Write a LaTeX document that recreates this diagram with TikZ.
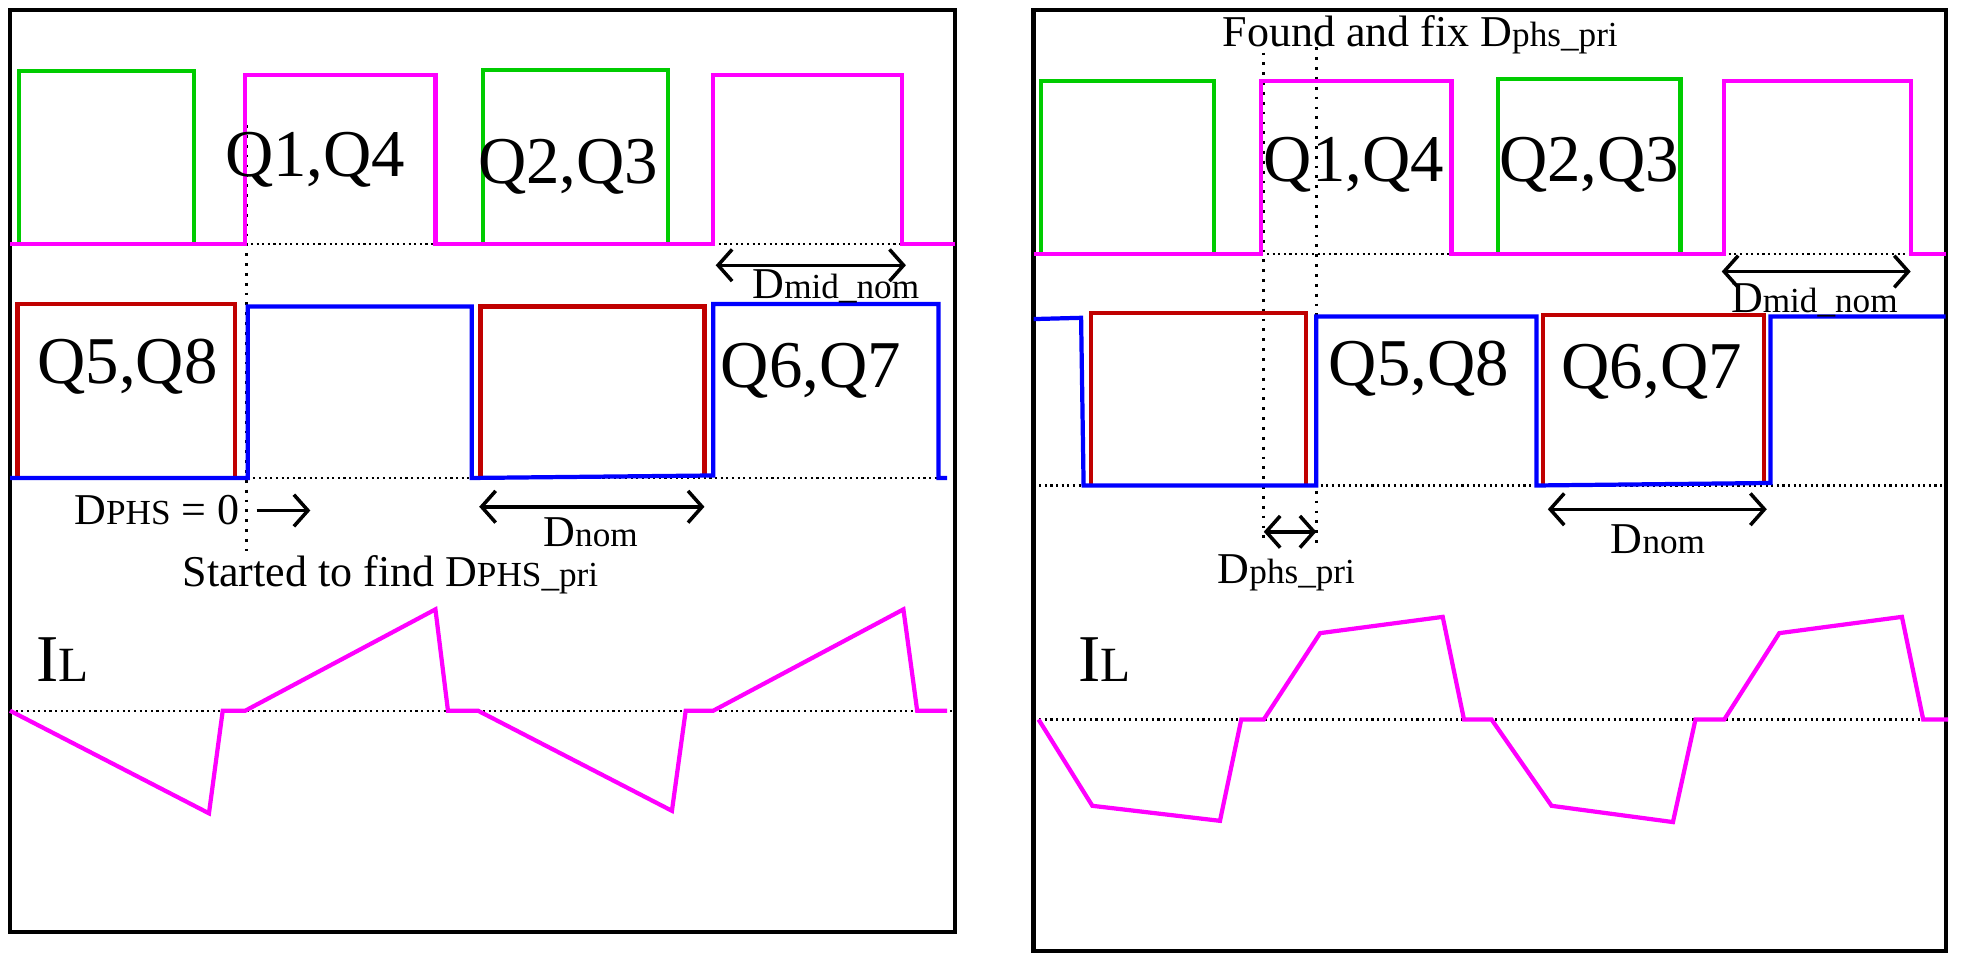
\documentclass[tikz,border=0pt]{standalone}
\usepackage{fontspec}
\setmainfont{Liberation Serif}
\usetikzlibrary{arrows.meta}
\definecolor{wavegreen}{RGB}{0,204,0}
\definecolor{wavemagenta}{RGB}{255,0,255}
\definecolor{wavered}{RGB}{192,0,0}
\newcommand{\sub}[1]{{\fontsize{10}{12}\selectfont #1}}
\newcommand{\subbig}[1]{{\fontsize{14}{16}\selectfont #1}}
\tikzset{
	wavepicture/.style = {
		x = 0.0125cm,
		y = -0.0125cm,
		wave/.style = {
			line width = 1.2pt,
			line join = miter
		}
	},
	frame/.style = {
		draw,
		line width = 1.2pt
	},
	zero/.style = {
		densely dotted,
		line width = 0.6pt
	},
	phasemark/.style = {
		dotted,
		line width = 0.8pt
	},
	span/.style = {
		draw,
		{Straight Barb[length=4pt,width=9pt]}-{Straight Barb[length=4pt,width=9pt]},
		line width = 1pt
	},
	qlabel/.style = {
		font = \fontsize{19}{22}\selectfont,
		inner sep = 0pt
	},
	dlabel/.style = {
		font = \fontsize{12.5}{15}\selectfont,
		inner sep = 0pt
	},
	wave-green/.style = {
		draw = wavegreen
	},
	wave-magenta/.style = {
		draw = wavemagenta
	},
	wave-red/.style = {
		draw = wavered
	},
	wave-blue/.style = {
		draw = blue
	}
}

\begin{document}
\begin{tikzpicture}[wavepicture]
	\useasboundingbox (0,0) rectangle (1568,771);

	% left panel
	\draw[frame] (8,8) rectangle (763,745);
	\draw[phasemark] (197,100) -- (197,440);
	\draw[zero] (196,195) -- (570,195) (570,195) -- (721,195);
	\draw[zero] (198,382) -- (757,382);
	\draw[zero] (8,568) -- (763,568);

	\draw[wave, wave-green] (15,195) -- (15,57) -- (155,57) -- (155,195);
	\draw[wave, wave-green] (386,195) -- (386,56) -- (534,56) -- (534,195);
	\draw[wave, wave-magenta] (8,195) -- (196,195) -- (196,60) -- (348,60) -- (348,195)
		-- (570,195) -- (570,60) -- (721,60) -- (721,195) -- (763,195);

	\draw[wave, wave-red] (14,382) -- (14,243) -- (188,243) -- (188,382);
	\draw[wave, wave-red] (384,382) -- (384,245) -- (563,245) -- (563,380);
	\draw[wave, wave-blue] (8,382) -- (198,382) -- (198,245) -- (377,245) -- (377,382)
		-- (570,380) -- (570,243) -- (750,243) -- (750,382) -- (757,382);

	\draw[wave, wave-magenta] (8,568) -- (167,650) -- (178,568) -- (196,568) -- (348,487)
		-- (358,568) -- (382,568) -- (537,648) -- (548,568) -- (570,568) -- (722,487)
		-- (733,568) -- (757,568);

	\node[qlabel] (Q14a) at (252,128) {Q1,Q4};
	\node[qlabel] (Q23a) at (454,133) {Q2,Q3};
	\node[qlabel] (Q58a) at (102,293) {Q5,Q8};
	\node[qlabel] (Q67a) at (648,296) {Q6,Q7};
	\node[qlabel] (ILa) at (50,527) {I\subbig{L}};

	\coordinate (midA1) at (572,212);
	\coordinate (midA2) at (724,212);
	\path[span] (midA1) -- (midA2);
	\node[dlabel] (midAlab) at (668,229) {D\sub{mid\_nom}};

	\node[dlabel, anchor = east] (phsA) at (192,408) {D\sub{PHS} = 0};
	\coordinate (phsA1) at (205,408);
	\coordinate (phsA2) at (248,408);
	\path[draw, -{Straight Barb[length=4pt,width=9pt]}, line width = 1pt] (phsA1) -- (phsA2);
	\coordinate (nomA1) at (383,405);
	\coordinate (nomA2) at (563,405);
	\path[span] (nomA1) -- (nomA2);
	\node[dlabel] (nomAlab) at (472,425) {D\sub{nom}};
	\node[dlabel] (startA) at (312,459) {Started to find D\sub{PHS\_pri}};

	% right panel
	\draw[frame] (826,8) rectangle (1555,760);
	\draw[phasemark] (1010,42) -- (1010,435);
	\draw[phasemark] (1052,30) -- (1052,435);
	\draw[zero] (1008,203) -- (1527,203);
	\draw[zero] (826,388) -- (1555,388);
	\draw[zero] (826,575) -- (1555,575);

	\draw[wave, wave-green] (832,203) -- (832,65) -- (970,65) -- (970,203);
	\draw[wave, wave-green] (1197,203) -- (1197,63) -- (1343,63) -- (1343,203);
	\draw[wave, wave-magenta] (826,203) -- (1008,203) -- (1008,65) -- (1160,65) -- (1160,203)
		-- (1378,203) -- (1378,65) -- (1527,65) -- (1527,203) -- (1555,203);

	\draw[wave, wave-red] (872,388) -- (872,250) -- (1044,250) -- (1044,388);
	\draw[wave, wave-red] (1233,388) -- (1233,252) -- (1410,252) -- (1410,386);
	\draw[wave, wave-blue] (826,255) -- (864,254) -- (866,388) -- (1052,388) -- (1052,253)
		-- (1228,253) -- (1228,388) -- (1415,386) -- (1415,253) -- (1555,253);

	\draw[wave, wave-magenta] (830,575) -- (873,644) -- (975,656) -- (992,575) -- (1010,575)
		-- (1055,506) -- (1153,493) -- (1170,575) -- (1192,575) -- (1240,644) -- (1337,657)
		-- (1355,575) -- (1378,575) -- (1422,506) -- (1520,493) -- (1537,575) -- (1557,575);

	\node[qlabel] (Q14b) at (1082,132) {Q1,Q4};
	\node[qlabel] (Q23b) at (1270,132) {Q2,Q3};
	\node[qlabel] (Q58b) at (1134,295) {Q5,Q8};
	\node[qlabel] (Q67b) at (1320,297) {Q6,Q7};
	\node[qlabel] (ILb) at (883,527) {I\subbig{L}};
	\node[dlabel] (fixB) at (1135,28) {Found and fix D\sub{phs\_pri}};

	\coordinate (midB1) at (1376,217);
	\coordinate (midB2) at (1527,217);
	\path[span] (midB1) -- (midB2);
	\node[dlabel] (midBlab) at (1450,240) {D\sub{mid\_nom}};

	\coordinate (phsB1) at (1010,425);
	\coordinate (phsB2) at (1052,425);
	\path[span] (phsB1) -- (phsB2);
	\node[dlabel] (phsBlab) at (1028,458) {D\sub{phs\_pri}};
	\coordinate (nomB1) at (1237,407);
	\coordinate (nomB2) at (1412,407);
	\path[span] (nomB1) -- (nomB2);
	\node[dlabel] (nomBlab) at (1325,431) {D\sub{nom}};
\end{tikzpicture}
\end{document}
